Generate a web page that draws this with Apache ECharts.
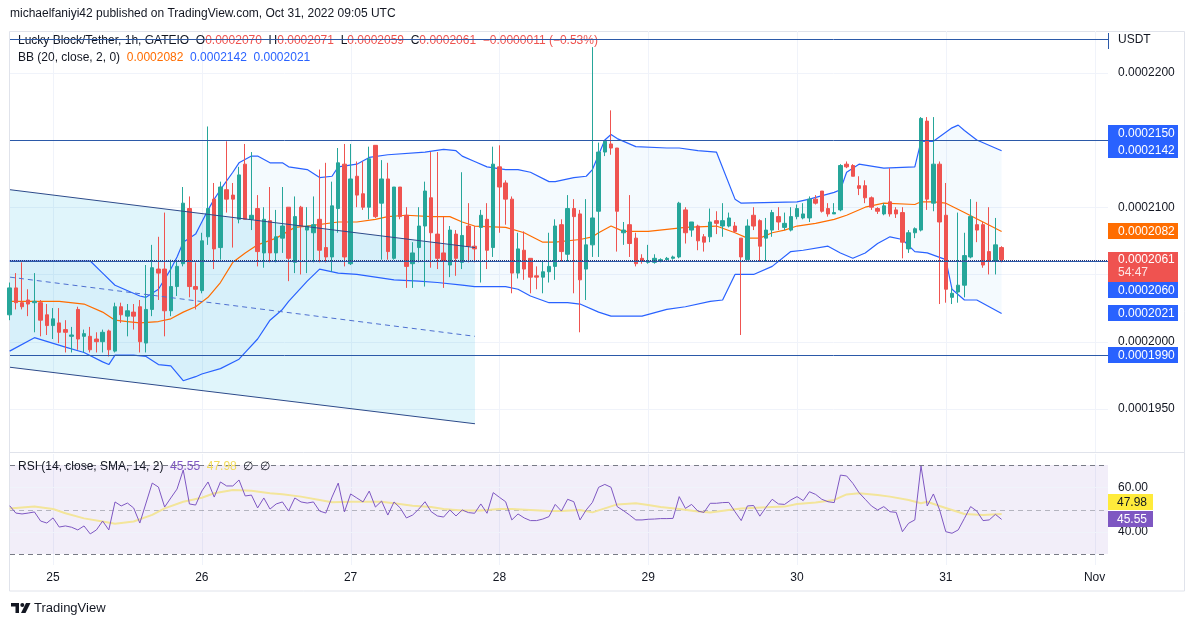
<!DOCTYPE html>
<html><head><meta charset="utf-8">
<script src="https://cdn.jsdelivr.net/npm/echarts@6/dist/echarts.min.js"></script>
<style>html,body{margin:0;padding:0;background:#fff}#c{width:1194px;height:627px}</style>
</head><body><div id="c"></div>
<script>
// Prices are stored in units of 0.0000001 USDT; hours are counted from Oct 25 2022 00:00 UTC.
const UNIT = 1e-7;
const firstHour = -7; // first candle: Oct 24 17:00 UTC, one candle per hour

const opens = [2020,2040,2029,2031,2029,2029,2020,2012,2014,2009, 2004,2024,2004,2004,2002,2000,2008,1993,2026,2019,
 2022,2026,1999,2024,2054,2054,2023,2041,2058,2099, 2041,2038,2078,2106,2070,2113,2109,2091,2132,2091,
 2099,2066,2090,2066,2077,2100,2059,2100,2083,2081, 2091,2070,2063,2099,2132,2058,2123,2110,2100,2146,
 2103,2121,2062,2115,2094,2058,2070,2086,2107,2080, 2066,2057,2080,2059,2086,2071,2085,2091,2070,2130,
 2118,2106,2051,2068,2062,2049,2048,2052,2056,2087, 2065,2099,2095,2054,2072,2097,2141,2147,2144,2081,
 2087,2077,2062,2059,2059,2060,2061,2062,2063,2098, 2083,2086,2078,2078,2090,2086,2086,2086,2077,2061,
 2094,2090,2077,2083,2093,2085,2083,2093,2092,2092, 2106,2112,2099,2095,2098,2132,2131,2116,2116,2107,
 2099,2095,2104,2098,2096,2069,2081,2083,2164,2103, 2132,2094,2033,2037,2042,2063,2087,2087,2067,2060, 2070];
const highs = [2044,2051,2059,2039,2051,2031,2028,2025,2025,2016, 2011,2026,2009,2011,2007,2009,2009,2029,2029,2028,
 2028,2031,2057,2072,2078,2096,2061,2060,2115,2108, 2059,2081,2160,2118,2119,2149,2118,2130,2147,2141,
 2109,2100,2115,2098,2115,2100,2108,2101,2100,2108, 2128,2133,2119,2144,2147,2147,2134,2134,2145,2146,
 2135,2133,2115,2115,2100,2074,2100,2119,2141,2141, 2093,2086,2083,2126,2103,2086,2098,2103,2145,2146,
 2120,2108,2081,2082,2062,2056,2060,2081,2091,2091, 2109,2106,2098,2106,2219,2148,2150,2172,2144,2089,
 2109,2081,2065,2072,2065,2062,2063,2064,2104,2100, 2089,2087,2080,2099,2097,2103,2096,2089,2077,2091,
 2100,2091,2092,2098,2100,2096,2100,2102,2103,2108, 2109,2112,2103,2103,2132,2134,2132,2123,2120,2108,
 2100,2103,2129,2100,2100,2083,2085,2167,2167,2167, 2134,2118,2040,2096,2081,2106,2104,2089,2100,2092, 2071];
const lows = [2016,2024,2024,2019,2007,2004,2005,2002,1999,1992, 1992,1994,1992,1992,1992,1992,1989,1992,2014,2004,
 2009,1992,1992,2019,2031,2004,2019,2034,2056,2033, 2024,2036,2072,2054,2061,2096,2070,2088,2091,2083,
 2056,2055,2059,2059,2066,2045,2051,2050,2051,2059, 2059,2059,2052,2081,2056,2057,2100,2098,2091,2092,
 2061,2061,2061,2091,2040,2040,2059,2041,2055,2054, 2040,2048,2049,2054,2059,2059,2044,2054,2063,2081,
 2087,2036,2047,2046,2036,2039,2036,2044,2046,2060, 2060,2036,2007,2031,2063,2063,2138,2139,2067,2072,
 2063,2056,2058,2058,2058,2059,2060,2061,2062,2073, 2078,2068,2067,2074,2080,2078,2085,2081,2005,2061,
 2083,2060,2060,2078,2083,2083,2082,2091,2091,2089, 2102,2096,2093,2095,2097,2129,2123,2109,2103,2098,
 2095,2094,2093,2092,2062,2066,2077,2082,2098,2097, 2028,2029,2028,2029,2033,2062,2074,2055,2050,2050, 2059];
const closes = [2040,2029,2026,2028,2030,2016,2012,2017,2007,2007, 2005,2002,2006,1994,2000,2007,1994,2026,2020,2023,
 2019,2000,2024,2055,2051,2023,2041,2056,2103,2041, 2039,2075,2099,2069,2115,2106,2106,2124,2091,2094,
 2067,2091,2066,2078,2086,2062,2093,2086,2086,2087, 2068,2063,2101,2133,2063,2121,2109,2100,2136,2093,
 2121,2067,2115,2093,2056,2066,2086,2112,2081,2062, 2060,2083,2062,2079,2071,2069,2094,2068,2132,2115,
 2106,2051,2069,2054,2048,2048,2052,2056,2086,2067, 2099,2093,2046,2072,2092,2141,2149,2144,2097,2083,
 2073,2058,2060,2060,2062,2061,2062,2063,2103,2081, 2089,2075,2074,2089,2088,2090,2092,2082,2063,2086,
 2086,2071,2083,2096,2089,2088,2093,2099,2095,2106, 2103,2097,2095,2096,2131,2130,2123,2114,2107,2100,
 2097,2101,2095,2095,2074,2081,2084,2166,2106,2132, 2089,2039,2036,2042,2064,2093,2083,2057,2060,2072, 2061];

// Bollinger Bands (20, close, 2): [hour, price]
const bbUpper = [[-7,2060],[6,2060],[8,2051],[10,2042],[14,2034],[15,2033],[17,2039],[19,2054],[20,2063],[21,2074],[23,2080],[24,2089],[25,2098],[26,2106],[27,2113],[29,2126],[30,2133],[32,2138],[33,2138],[35,2133],[37,2133],[38,2130],[41,2128],[43,2122],[45,2123],[46,2130],[49,2132],[51,2137],[54,2139],[60,2141],[63,2143],[65,2142],[66,2138],[68,2134],[70,2130],[73,2128],[75,2128],[77,2126],[80,2119],[81,2119],[84,2122],[86,2123],[87,2128],[88,2139],[89,2150],[90,2154],[91,2151],[94,2145],[99,2144],[101,2144],[104,2142],[107,2141],[110,2106],[111,2103],[120,2104],[122,2106],[126,2111],[127,2113],[128,2126],[130,2132],[134,2129],[139,2130],[140,2149],[142,2149],[145,2159],[146,2161],[147,2157],[149,2150],[153,2142]];
const bbBasis = [[-7,2030],[1,2030],[5,2028],[8,2022],[10,2016],[12,2015],[14,2014],[17,2015],[19,2017],[21,2022],[23,2026],[25,2033],[27,2044],[29,2059],[31,2066],[33,2072],[36,2077],[39,2085],[41,2086],[46,2089],[49,2089],[52,2091],[54,2093],[57,2094],[61,2093],[64,2093],[66,2089],[68,2086],[73,2085],[76,2081],[79,2074],[81,2074],[85,2076],[87,2078],[88,2081],[90,2086],[92,2082],[96,2082],[102,2085],[107,2086],[110,2081],[112,2077],[114,2077],[116,2081],[118,2083],[120,2086],[123,2088],[126,2091],[128,2094],[131,2100],[134,2103],[139,2102],[140,2104],[142,2104],[144,2103],[147,2096],[150,2089],[153,2082]];
const bbLower = [[-7,1993],[-3,2003],[2,1996],[5,1992],[8,1985],[9,1983],[10,1990],[13,1990],[15,1989],[17,1983],[19,1982],[21,1971],[23,1974],[24,1976],[27,1980],[30,1987],[31,1992],[33,2002],[35,2016],[37,2024],[38,2030],[40,2040],[41,2045],[43,2054],[46,2051],[49,2050],[52,2048],[55,2046],[59,2045],[62,2044],[66,2042],[68,2041],[73,2041],[75,2039],[77,2034],[80,2029],[83,2029],[85,2028],[88,2022],[90,2019],[95,2019],[99,2024],[102,2026],[106,2030],[108,2031],[110,2050],[113,2050],[116,2056],[119,2067],[121,2068],[125,2071],[127,2066],[129,2062],[131,2066],[133,2073],[135,2078],[137,2076],[139,2067],[141,2066],[144,2061],[145,2039],[147,2031],[149,2031],[153,2021]];

// RSI (14) per candle, and its SMA (14)
const rsi = [51.7,48.4,48.0,48.4,48.9,44.8,43.9,46.2,42.1,42.6, 42.0,40.8,42.6,39.0,40.8,44.8,40.8,53.4,51.6,52.9,
 50.7,43.9,52.9,61.9,60.1,51.1,55.2,59.2,67.8,52.5, 52.0,58.3,62.4,55.6,62.4,60.6,60.6,63.3,56.1,56.5,
 50.7,55.2,50.2,52.5,53.4,49.3,55.2,53.4,52.9,53.4, 49.3,48.4,55.6,61.9,48.9,57.0,55.2,53.4,58.3,51.1,
 53.8,47.5,53.4,50.7,46.2,47.5,50.2,53.5,49.0,47.1, 46.6,49.8,47.1,49.8,48.6,48.3,52.5,48.3,57.6,55.5,
 53.5,45.3,48.0,46.2,45.0,45.0,45.7,46.8,52.3,49.3, 54.6,53.5,45.3,49.8,53.2,60.0,61.3,60.0,51.3,49.5,
 47.5,45.3,45.3,45.6,45.7,45.9,45.9,46.0,55.8,50.5, 52.3,49.3,48.7,52.8,52.8,53.1,53.2,49.0,45.0,51.6,
 51.8,47.0,51.0,54.6,52.5,52.3,54.3,55.8,54.0,58.0, 56.8,54.6,53.5,53.1,65.5,65.1,61.8,57.6,54.6,51.6,
 49.8,51.3,49.0,48.7,40.0,43.8,45.3,69.6,51.6,57.0, 49.8,40.0,39.3,40.8,46.0,51.3,49.3,45.0,45.3,47.8, 45.55];
const rsiMa = [[-7,50.5],[-3,51.3],[0,50.2],[2,48.3],[5,46.0],[8,44.6],[10,43.6],[13,44.6],[16,47.6],[18,50.5],[21,53.5],[24,55.3],[26,57.3],[29,58.8],[32,58.4],[35,57.3],[37,56.9],[40,55.8],[43,54.3],[45,53.3],[48,53.5],[51,53.5],[53,53.5],[55,52.8],[58,51.7],[61,51.1],[63,50.2],[66,49.6],[69,49.6],[72,50.2],[74,50.2],[77,49.8],[80,49.3],[82,49.3],[85,49.8],[87,48.7],[89,50.5],[91,52.3],[94,52.8],[96,52.0],[98,51.1],[101,50.2],[104,49.1],[106,48.7],[109,49.8],[111,50.5],[115,51.0],[118,51.3],[120,52.5],[123,53.2],[126,54.3],[128,56.8],[130,57.3],[133,56.5],[135,55.8],[138,54.3],[140,52.8],[141,53.5],[143,51.6],[145,49.8],[147,48.0],[150,47.5],[153,47.98]];

// axes / ticks
const dayTicks = [0,24,48,72,96,120,144,168];
const dayLabels = ['25','26','27','28','29','30','31','Nov'];
const priceTicks = [1950,2000,2050,2100,2150,2200];
const rsiTicks = [40,60];
const rsiBands = [70,30];
const rsiMid = [50];

// user drawings
const hLevels = [2225,2150,2060,1990];
const channelHours = [-6.94,68.06];
const channelUpper = [2113,2070];
const channelMid = [2048,2004];
const channelLower = [1981,1939];
const countdown = '54:47';

// ---------------------------------------------------------------
const n = closes.length;
const X_MIN = -6.94, X_MAX = 170.16;
const FONT = '"Liberation Sans", Arial, sans-serif';
const fmt = v => (v * UNIT).toFixed(7);
const pair = (hs, vs) => hs.map((h, i) => [h, vs[i]]);

const candles = closes.map((c, i) => [firstHour + i, opens[i], c, lows[i], highs[i]]);
const lastBasis = bbBasis[bbBasis.length - 1][1];
const lastUpper = bbUpper[bbUpper.length - 1][1];
const lastLower = bbLower[bbLower.length - 1][1];
const lastRsi = rsi[n - 1];
const lastRsiMa = rsiMa[rsiMa.length - 1][1];
const chg = closes[n - 1] - closes[n - 2];
const chgPct = chg / closes[n - 2] * 100;
const minus = s => s.replace('-', '\u2212');

function hLines(id, values, style, gi, z) {
  return { type: 'custom', id, xAxisIndex: gi, yAxisIndex: gi, z, silent: true,
    data: values.map(v => [0, v]),
    renderItem: (p, api) => {
      const cs = p.coordSys;
      const y = Math.round(api.coord([0, api.value(1)])[1]) + 0.5;
      return { type: 'line', shape: { x1: cs.x, y1: y, x2: cs.x + cs.width, y2: y }, style: Object.assign({ fill: null }, style) };
    } };
}
function vLines(id, values, style, gi, z) {
  return { type: 'custom', id, xAxisIndex: gi, yAxisIndex: gi, z, silent: true,
    data: values.map(v => [v, 0]),
    renderItem: (p, api) => {
      const cs = p.coordSys;
      const x = Math.round(api.coord([api.value(0), 0])[0]) + 0.5;
      return { type: 'line', shape: { x1: x, y1: cs.y, x2: x, y2: cs.y + cs.height }, style: Object.assign({ fill: null }, style) };
    } };
}
function band(id, upper, lower, fill, gi, z) {
  return { type: 'custom', id, xAxisIndex: gi, yAxisIndex: gi, z, silent: true, clip: true,
    data: [[upper[0][0], upper[0][1]]],
    renderItem: (p, api) => ({ type: 'polygon',
      shape: { points: upper.map(q => api.coord(q)).concat(lower.slice().reverse().map(q => api.coord(q))) },
      style: { fill } }) };
}
function line(id, data, color, width, gi, z, dash) {
  return { type: 'line', id, xAxisIndex: gi, yAxisIndex: gi, z, data, symbol: 'none', silent: true,
    lineStyle: { color, width, type: dash || 'solid' } };
}

const priceTags = [2150, lastUpper, lastBasis, closes[n - 1], 2060, lastLower, 1990];
const priceTagStyle = [
  { bg: '#2962ff', dy: -7, h: 17 }, { bg: '#2962ff', dy: -1, h: 16 }, { bg: '#ff6d00', dy: 0, h: 16 },
  { bg: '#ef5350', dy: 0, h: 30, second: countdown }, { bg: '#2962ff', dy: 29, h: 16 }, { bg: '#2962ff', dy: 0, h: 16 }, { bg: '#2962ff', dy: 0, h: 16 }];
const rsiTags = [lastRsiMa, lastRsi];
const rsiTagStyle = [{ bg: '#ffeb3b', fg: '#131722', dy: -11.5 }, { bg: '#7e57c2', fg: '#ffffff', dy: 0 }];

function tagText(text, x, y, fill) {
  return { type: 'text', style: { text, x, y, fill, font: '12px ' + FONT,
    align: 'left', verticalAlign: 'middle', textAlign: 'left', textVerticalAlign: 'middle' } };
}

const priceTagSeries = { type: 'custom', id: 'ptags', xAxisIndex: 0, yAxisIndex: 0, z: 30, silent: true,
  data: priceTags.map(v => [0, v]),
  renderItem: (p, api) => {
    const cs = p.coordSys, st = priceTagStyle[p.dataIndex], v = api.value(1);
    const x0 = cs.x + cs.width, yc = api.coord([0, v])[1] + st.dy;
    const ch = [{ type: 'rect', shape: { x: x0, y: Math.round(yc - 8), width: 70, height: st.h }, style: { fill: st.bg } },
      tagText(fmt(v), x0 + 10, yc + 0.5, '#ffffff')];
    if (st.second) ch.push(tagText(st.second, x0 + 10, yc + 13.5, 'rgba(255,255,255,0.85)'));
    return { type: 'group', children: ch };
  } };
const rsiTagSeries = { type: 'custom', id: 'rtags', xAxisIndex: 1, yAxisIndex: 1, z: 30, silent: true,
  data: rsiTags.map(v => [0, v]),
  renderItem: (p, api) => {
    const cs = p.coordSys, st = rsiTagStyle[p.dataIndex], v = api.value(1);
    const x0 = cs.x + cs.width, yc = api.coord([0, v])[1] + st.dy;
    return { type: 'group', children: [
      { type: 'rect', shape: { x: x0, y: Math.round(yc - 8), width: 45, height: 16 }, style: { fill: st.bg } },
      tagText(v.toFixed(2), x0 + 9, yc + 0.5, st.fg)] };
  } };

const gridColor = '#f0f3fa';
const lvlColor = '#2b59a8';

const option = {
  animation: false,
  textStyle: { fontFamily: FONT },
  grid: [
    { left: 10, right: 86, top: 31, height: 421 },
    { left: 10, right: 86, top: 454, height: 111 }
  ],
  xAxis: [
    { type: 'value', gridIndex: 0, min: X_MIN, max: X_MAX, show: false },
    { type: 'value', gridIndex: 1, min: X_MIN, max: X_MAX,
      axisLine: { show: false }, axisTick: { show: false }, splitLine: { show: false },
      axisLabel: { customValues: dayTicks, formatter: v => dayLabels[dayTicks.indexOf(v)], color: '#131722', fontSize: 12, margin: 7 } }
  ],
  yAxis: [
    { type: 'value', gridIndex: 0, position: 'right', min: 1918, max: 2231, scale: true,
      axisLine: { show: false }, axisTick: { show: false, customValues: priceTicks }, splitLine: { show: false },
      axisLabel: { customValues: priceTicks, formatter: v => fmt(v), color: '#131722', fontSize: 12, margin: 10 } },
    { type: 'value', gridIndex: 1, position: 'right', min: 25, max: 75,
      axisLine: { show: false }, axisTick: { show: false, customValues: rsiTicks }, splitLine: { show: false },
      axisLabel: { customValues: rsiTicks, formatter: v => v.toFixed(2), color: '#131722', fontSize: 12, margin: 10 } }
  ],
  series: [
    hLines('pgrid', priceTicks, { stroke: gridColor, lineWidth: 1 }, 0, 0),
    vLines('dgrid0', dayTicks, { stroke: gridColor, lineWidth: 1 }, 0, 0),
    vLines('dgrid1', dayTicks, { stroke: gridColor, lineWidth: 1 }, 1, 0),
    band('channelFill', pair(channelHours, channelUpper), pair(channelHours, channelLower), 'rgba(0,176,220,0.12)', 0, 1),
    band('bbFill', bbUpper, bbLower, 'rgba(33,150,243,0.05)', 0, 1),
    line('bbU', bbUpper, '#2962ff', 1.2, 0, 3),
    line('bbL', bbLower, '#2962ff', 1.2, 0, 3),
    line('bbB', bbBasis, '#ff6d00', 1.2, 0, 3),
    { type: 'candlestick', id: 'candles', xAxisIndex: 0, yAxisIndex: 0, z: 5, silent: true,
      dimensions: ['hour', 'open', 'close', 'lowest', 'highest'],
      encode: { x: 'hour', y: ['open', 'close', 'lowest', 'highest'] },
      data: candles, barWidth: 4,
      itemStyle: { color: '#26a69a', color0: '#ef5350', borderColor: '#26a69a', borderColor0: '#ef5350', borderWidth: 1 } },
    line('chU', pair(channelHours, channelUpper), '#2c4a8a', 1, 0, 8),
    line('chL', pair(channelHours, channelLower), '#2c4a8a', 1, 0, 8),
    line('chM', pair(channelHours, channelMid), '#4d6fd0', 1, 0, 8, [5, 4]),
    hLines('levels', hLevels, { stroke: lvlColor, lineWidth: 1 }, 0, 9),
    hLines('priceLine', [closes[n - 1]], { stroke: '#2a3470', lineWidth: 1, lineDash: [1, 1] }, 0, 10),
    // RSI pane
    band('rsiFill', [[X_MIN, rsiBands[0]], [X_MAX, rsiBands[0]]],
         [[X_MIN, rsiBands[1]], [X_MAX, rsiBands[1]]], 'rgba(126,87,194,0.1)', 1, 1),
    hLines('rsiGrid', rsiTicks, { stroke: gridColor, lineWidth: 1 }, 1, 2),
    hLines('rsiBands', rsiBands, { stroke: '#787b86', lineWidth: 1, lineDash: [5, 4] }, 1, 3),
    hLines('rsiMid', rsiMid, { stroke: 'rgba(120,123,134,0.5)', lineWidth: 1, lineDash: [5, 4] }, 1, 3),
    line('rsiMa', rsiMa, '#f3e59a', 2, 1, 4),
    line('rsi', rsi.map((v, i) => [firstHour + i, v]), '#7e57c2', 1, 1, 5),
    priceTagSeries,
    rsiTagSeries
  ],
  graphic: [
    { type: 'rect', z: 0, shape: { x: 9.5, y: 31.5, width: 1175, height: 559.5 }, style: { fill: 'none', stroke: '#e0e3eb', lineWidth: 1 } },
    { type: 'line', z: 0, shape: { x1: 9.5, y1: 452.5, x2: 1184.5, y2: 452.5 }, style: { stroke: '#e0e3eb', lineWidth: 1 } },
    { type: 'line', z: 50, shape: { x1: 1108.5, y1: 33, x2: 1108.5, y2: 49 }, style: { stroke: lvlColor, lineWidth: 1 } },
    { type: 'text', z: 50, x: 10, y: 14, style: { text: 'michaelfaniyi42 published on TradingView.com, Oct 31, 2022 09:05 UTC',
      font: '12px ' + FONT, fill: '#131722', textVerticalAlign: 'middle', verticalAlign: 'middle' } },
    { type: 'text', z: 50, x: 1118, y: 40, style: { text: 'USDT', font: '12px ' + FONT, fill: '#131722', textVerticalAlign: 'middle', verticalAlign: 'middle' } },
    { type: 'text', z: 1, x: 18, y: 41, style: {
      text: '{t|Lucky Block/Tether, 1h, GATEIO}  {t|O}{v|' + fmt(opens[n - 1]) + '}  {t|H}{v|' + fmt(highs[n - 1]) + '}  {t|L}{v|' + fmt(lows[n - 1]) +
            '}  {t|C}{v|' + fmt(closes[n - 1]) + '}  {v|' + minus(fmt(chg)) + ' (' + minus(chgPct.toFixed(2)) + '%)}',
      font: '12px ' + FONT, fill: '#131722', textVerticalAlign: 'middle', verticalAlign: 'middle',
      rich: { t: { fill: '#131722', color: '#131722', font: '12px ' + FONT }, v: { fill: '#ef5350', color: '#ef5350', font: '12px ' + FONT } } } },
    { type: 'text', z: 50, x: 18, y: 58, style: {
      text: '{t|BB (20, close, 2, 0)}  {o|' + fmt(lastBasis) + '}  {b|' + fmt(lastUpper) + '}  {b|' + fmt(lastLower) + '}',
      font: '12px ' + FONT, fill: '#131722', textVerticalAlign: 'middle', verticalAlign: 'middle',
      rich: { t: { fill: '#131722', color: '#131722', font: '12px ' + FONT }, o: { fill: '#ff6d00', color: '#ff6d00', font: '12px ' + FONT }, b: { fill: '#2962ff', color: '#2962ff', font: '12px ' + FONT } } } },
    { type: 'text', z: 50, x: 18, y: 467, style: {
      text: '{t|RSI (14, close, SMA, 14, 2)}  {p|' + lastRsi.toFixed(2) + '}  {y|' + lastRsiMa.toFixed(2) + '}  {t|\u2205  \u2205}',
      font: '12px ' + FONT, fill: '#131722', textVerticalAlign: 'middle', verticalAlign: 'middle',
      rich: { t: { fill: '#131722', color: '#131722', font: '12px ' + FONT }, p: { fill: '#7e57c2', color: '#7e57c2', font: '12px ' + FONT }, y: { fill: '#f2dc5d', color: '#f2dc5d', font: '12px ' + FONT } } } },
    { type: 'group', z: 50, children: [
      { type: 'polygon', shape: { points: [[11, 603], [19, 603], [19, 613], [15.5, 613], [15.5, 606.5], [11, 606.5]] }, style: { fill: '#131722' } },
      { type: 'circle', shape: { cx: 22.3, cy: 605, r: 2 }, style: { fill: '#131722' } },
      { type: 'polygon', shape: { points: [[26, 603], [30.5, 603], [25.5, 613], [21, 613]] }, style: { fill: '#131722' } }
    ] },
    { type: 'text', z: 50, x: 34, y: 608, style: { text: 'TradingView', font: '13px ' + FONT, fill: '#131722', textVerticalAlign: 'middle', verticalAlign: 'middle' } }
  ]
};
const chart = echarts.init(document.getElementById('c'));
chart.setOption(option);
</script>
</body></html>
